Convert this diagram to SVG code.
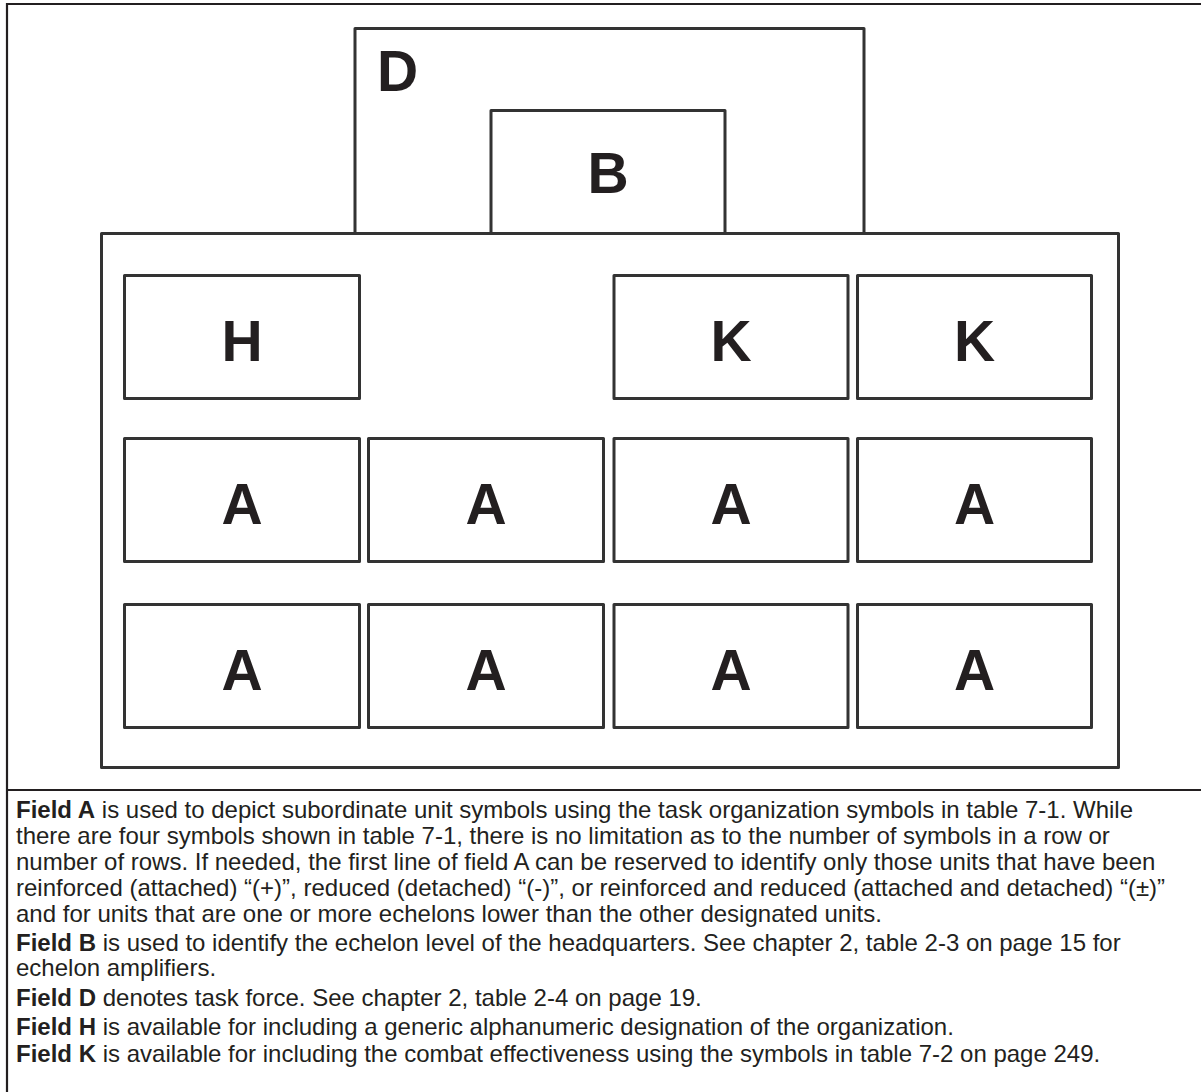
<svg xmlns="http://www.w3.org/2000/svg" width="1201" height="1092" viewBox="0 0 1201 1092">
<style>
.frame{fill:none;stroke:#231f20;stroke-width:2.2}
.box{fill:#fff;stroke:#333;stroke-width:3;stroke-linejoin:round}
.lbl{font-family:"Liberation Sans",Arial,sans-serif;font-weight:bold;font-size:57px;fill:#231f20;text-anchor:middle}
.txt{font-family:"Liberation Sans",Arial,sans-serif;font-size:24px;fill:#231f20}
.b{font-weight:bold}
</style>
<rect width="1201" height="1092" fill="#fff"/>
<g id="frame">
<path class="frame" d="M1201,4 H7 V1092"/>
<line class="frame" x1="7" y1="790" x2="1201" y2="790"/>
</g>
<g id="node-D">
<rect class="box" x="355" y="28.5" width="509" height="205"/>
<text class="lbl" x="377" y="91" style="text-anchor:start">D</text>
</g>
<g id="node-B">
<rect class="box" x="491" y="110.5" width="234" height="123"/>
<text class="lbl" x="608" y="193">B</text>
</g>
<g id="node-main">
<rect class="box" x="101.5" y="233.5" width="1017" height="534"/>
</g>
<g id="node-H">
<rect class="box" x="124.5" y="275.5" width="235" height="123"/>
<text class="lbl" x="242" y="361">H</text>
</g>
<g id="node-K1">
<rect class="box" x="614" y="275.5" width="234" height="123"/>
<text class="lbl" x="731" y="361">K</text>
</g>
<g id="node-K2">
<rect class="box" x="857.5" y="275.5" width="234" height="123"/>
<text class="lbl" x="974.5" y="361">K</text>
</g>
<g id="node-A1"><rect class="box" x="124.5" y="438.5" width="235" height="123"/><text class="lbl" x="242" y="524">A</text></g>
<g id="node-A2"><rect class="box" x="368.5" y="438.5" width="235" height="123"/><text class="lbl" x="486" y="524">A</text></g>
<g id="node-A3"><rect class="box" x="614" y="438.5" width="234" height="123"/><text class="lbl" x="731" y="524">A</text></g>
<g id="node-A4"><rect class="box" x="857.5" y="438.5" width="234" height="123"/><text class="lbl" x="974.5" y="524">A</text></g>
<g id="node-A5"><rect class="box" x="124.5" y="604.5" width="235" height="123"/><text class="lbl" x="242" y="690">A</text></g>
<g id="node-A6"><rect class="box" x="368.5" y="604.5" width="235" height="123"/><text class="lbl" x="486" y="690">A</text></g>
<g id="node-A7"><rect class="box" x="614" y="604.5" width="234" height="123"/><text class="lbl" x="731" y="690">A</text></g>
<g id="node-A8"><rect class="box" x="857.5" y="604.5" width="234" height="123"/><text class="lbl" x="974.5" y="690">A</text></g>
<g id="connectors"></g>
<g id="notes" class="txt">
<text x="16" y="818"><tspan class="b">Field A</tspan> is used to depict subordinate unit symbols using the task organization symbols in table 7-1. While</text>
<text x="16" y="844">there are four symbols shown in table 7-1, there is no limitation as to the number of symbols in a row or</text>
<text x="16" y="870">number of rows. If needed, the first line of field A can be reserved to identify only those units that have been</text>
<text x="16" y="896">reinforced (attached) “(+)”, reduced (detached) “(-)”, or reinforced and reduced (attached and detached) “(±)”</text>
<text x="16" y="922">and for units that are one or more echelons lower than the other designated units.</text>
<text x="16" y="951"><tspan class="b">Field B</tspan> is used to identify the echelon level of the headquarters. See chapter 2, table 2-3 on page 15 for</text>
<text x="16" y="976">echelon amplifiers.</text>
<text x="16" y="1006"><tspan class="b">Field D</tspan> denotes task force. See chapter 2, table 2-4 on page 19.</text>
<text x="16" y="1035"><tspan class="b">Field H</tspan> is available for including a generic alphanumeric designation of the organization.</text>
<text x="16" y="1062"><tspan class="b">Field K</tspan> is available for including the combat effectiveness using the symbols in table 7-2 on page 249.</text>
</g>
</svg>
